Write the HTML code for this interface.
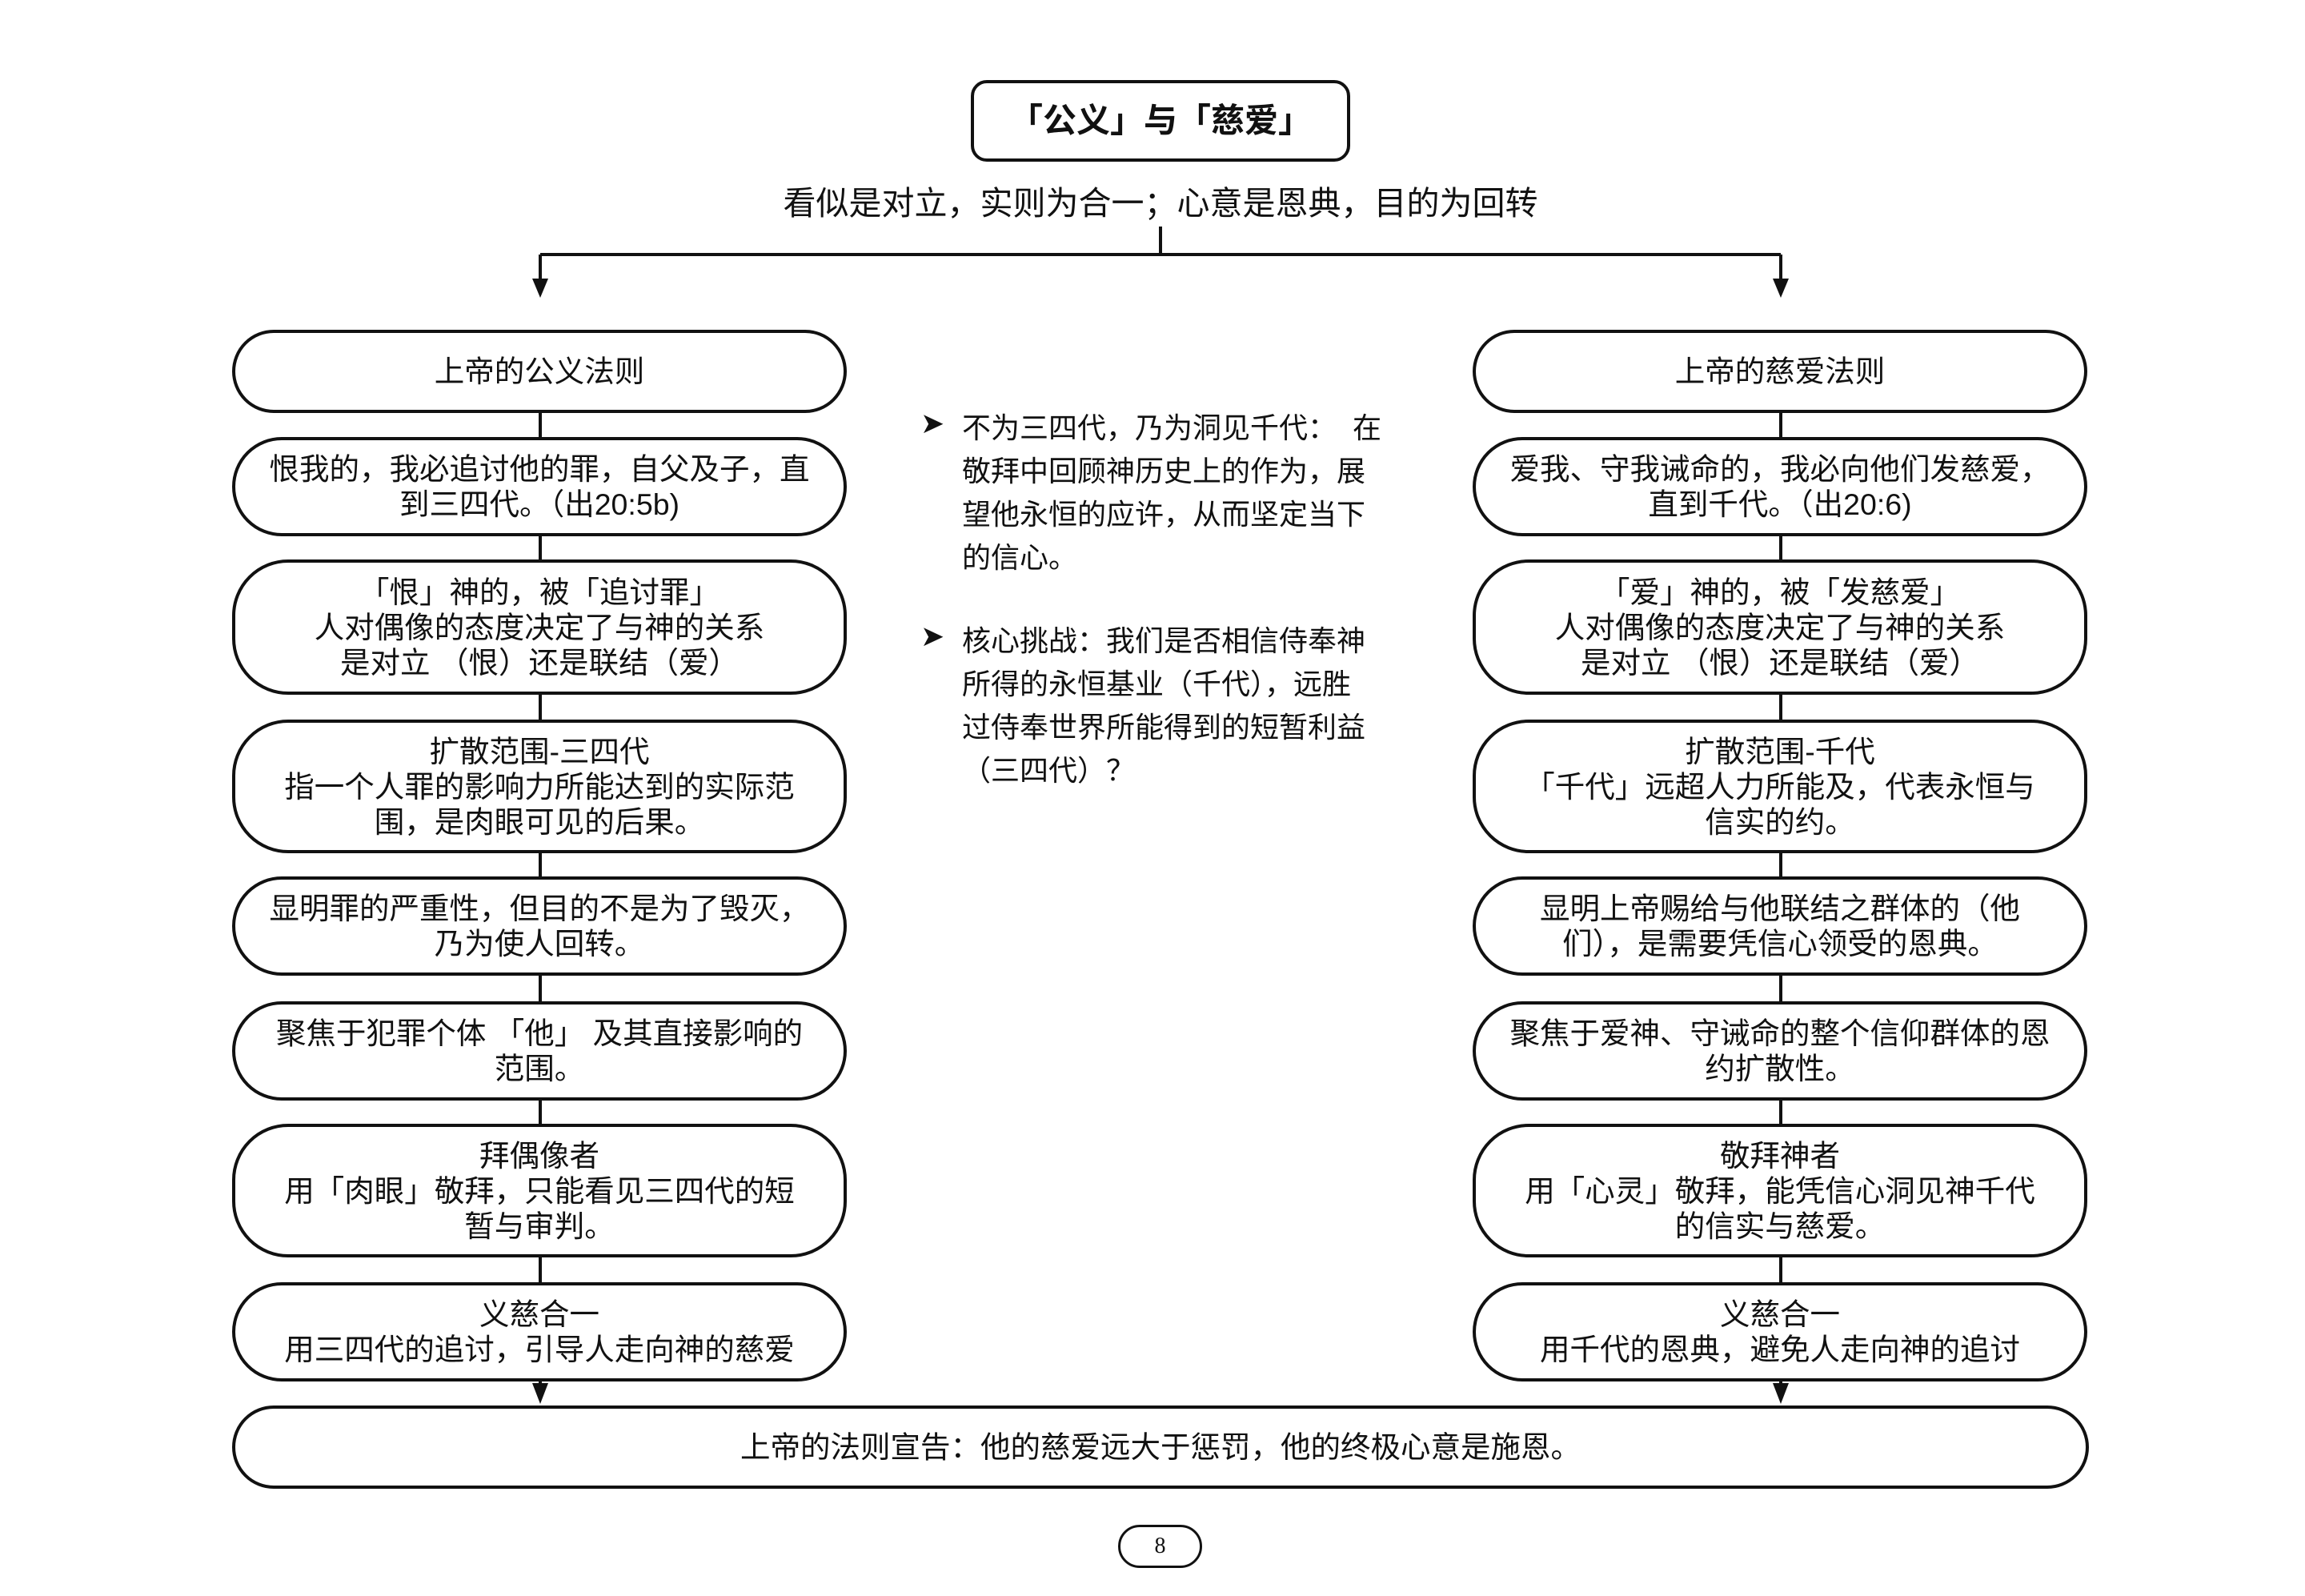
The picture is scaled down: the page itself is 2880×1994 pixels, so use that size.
<!DOCTYPE html>
<html><head><meta charset="utf-8"><style>
body{margin:0;width:2880px;height:1994px;background:#fff;position:relative;overflow:hidden;font-family:"Liberation Sans","Noto Sans CJK SC",sans-serif;color:#111}
.b{position:absolute;box-sizing:border-box;border:4px solid #111;border-radius:70px;display:flex;align-items:center;justify-content:center;text-align:center;font-size:37.5px;line-height:44px;background:#fff;white-space:nowrap}
.L{left:290px;width:768px}.R{left:1840px;width:768px}
.m{position:absolute;left:1202px;font-size:36px;line-height:54px;width:600px;white-space:nowrap}
.bu{position:absolute;left:1150px;font-size:36px}
</style></head><body>
<svg width="2880" height="1994" style="position:absolute;left:0;top:0">
<g stroke="#111" stroke-width="4" fill="none">
<line x1="1450" y1="283" x2="1450" y2="318"/>
<line x1="675" y1="318" x2="2225" y2="318"/>
<line x1="675" y1="318" x2="675" y2="350"/>
<line x1="2225" y1="318" x2="2225" y2="350"/>
<line x1="675" y1="516" x2="675" y2="1740"/>
<line x1="2225" y1="516" x2="2225" y2="1740"/>
</g>
<g fill="#111">
<polygon points="665,348 685,348 675,372"/>
<polygon points="2215,348 2235,348 2225,372"/>
<polygon points="665,1728 685,1728 675,1754"/>
<polygon points="2215,1728 2235,1728 2225,1754"/>
</g>
</svg>
<div class="b" style="left:1213px;top:100px;width:474px;height:102px;border-radius:20px;font-size:42px;font-weight:bold">「公义」与「慈爱」</div>
<div style="position:absolute;left:850px;width:1200px;top:220px;text-align:center;font-size:41px">看似是对立，实则为合一；心意是恩典，目的为回转</div>

<div class="b L" style="top:412px;height:104px">上帝的公义法则</div>
<div class="b L" style="top:546px;height:124px">恨我的，我必追讨他的罪，自父及子，直<br>到三四代。（出20:5b)</div>
<div class="b L" style="top:699px;height:169px">「恨」神的，被「追讨罪」<br>人对偶像的态度决定了与神的关系<br>是对立 （恨）还是联结（爱）</div>
<div class="b L" style="top:899px;height:167px">扩散范围-三四代<br>指一个人罪的影响力所能达到的实际范<br>围，是肉眼可见的后果。</div>
<div class="b L" style="top:1095px;height:124px">显明罪的严重性，但目的不是为了毁灭，<br>乃为使人回转。</div>
<div class="b L" style="top:1251px;height:124px">聚焦于犯罪个体 「他」 及其直接影响的<br>范围。</div>
<div class="b L" style="top:1404px;height:167px">拜偶像者<br>用「肉眼」敬拜，只能看见三四代的短<br>暂与审判。</div>
<div class="b L" style="top:1602px;height:124px">义慈合一<br>用三四代的追讨，引导人走向神的慈爱</div>

<div class="b R" style="top:412px;height:104px">上帝的慈爱法则</div>
<div class="b R" style="top:546px;height:124px">爱我、守我诫命的，我必向他们发慈爱，<br>直到千代。（出20:6)</div>
<div class="b R" style="top:699px;height:169px">「爱」神的，被「发慈爱」<br>人对偶像的态度决定了与神的关系<br>是对立 （恨）还是联结（爱）</div>
<div class="b R" style="top:899px;height:167px">扩散范围-千代<br>「千代」远超人力所能及，代表永恒与<br>信实的约。</div>
<div class="b R" style="top:1095px;height:124px">显明上帝赐给与他联结之群体的（他<br>们），是需要凭信心领受的恩典。</div>
<div class="b R" style="top:1251px;height:124px">聚焦于爱神、守诫命的整个信仰群体的恩<br>约扩散性。</div>
<div class="b R" style="top:1404px;height:167px">敬拜神者<br>用「心灵」敬拜，能凭信心洞见神千代<br>的信实与慈爱。</div>
<div class="b R" style="top:1602px;height:124px">义慈合一<br>用千代的恩典，避免人走向神的追讨</div>

<div class="b" style="left:290px;top:1756px;width:2320px;height:104px">上帝的法则宣告：他的慈爱远大于惩罚，他的终极心意是施恩。</div>

<div class="bu" style="top:508px">➤</div>
<div class="m" style="top:508px">不为三四代，乃为洞见千代：&nbsp;&nbsp;在<br>敬拜中回顾神历史上的作为，展<br>望他永恒的应许，从而坚定当下<br>的信心。</div>
<div class="bu" style="top:774px">➤</div>
<div class="m" style="top:774px">核心挑战：我们是否相信侍奉神<br>所得的永恒基业（千代），远胜<br>过侍奉世界所能得到的短暂利益<br>（三四代）？</div>

<div class="b" style="left:1397px;top:1905px;width:105px;height:54px;border-width:3px;border-radius:27px;font-size:28px;font-family:'Liberation Serif',serif">8</div>
</body></html>
